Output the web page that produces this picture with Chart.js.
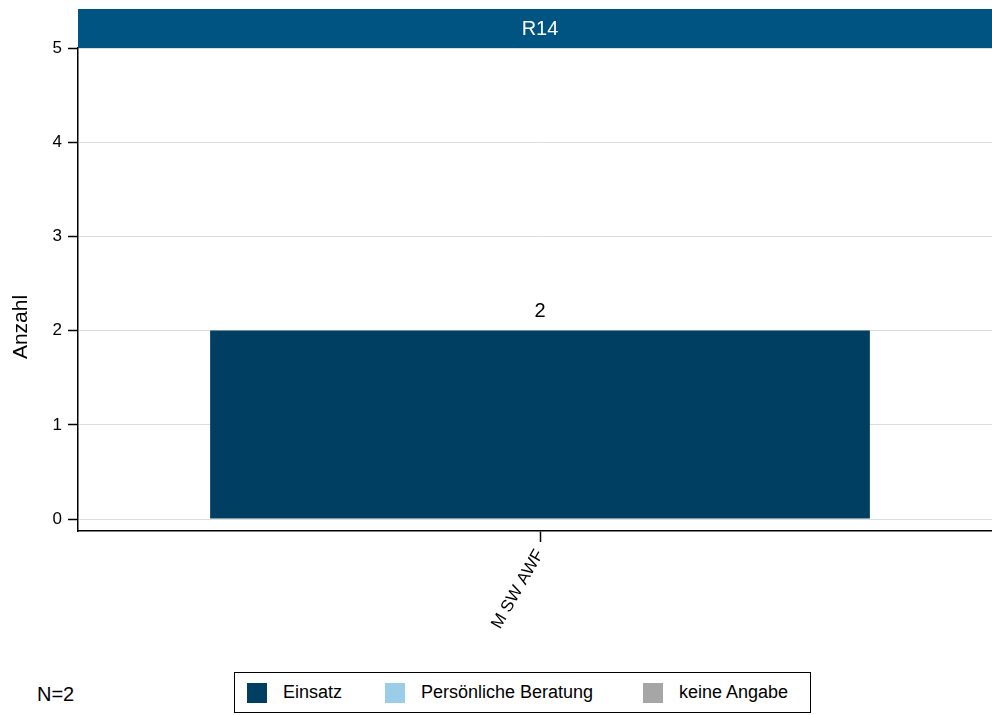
<!DOCTYPE html>
<html>
<head>
<meta charset="utf-8">
<script src="https://cdn.jsdelivr.net/npm/chart.js@4/dist/chart.umd.min.js"></script>
<style>
  body { margin: 0; width: 992px; height: 715px; overflow: hidden; background: #fff; font-family: "Liberation Sans", Arial, sans-serif; position: relative; }
  #wrap { position: absolute; left: 0; top: 0; width: 992px; height: 650px; overflow: hidden; }
  #nlabel { position: absolute; left: 37px; top: 684px; font-size: 20px; line-height: 20px; color: #000; }
  #legend { position: absolute; left: 234px; top: 672px; width: 577px; height: 41px; border: 1.5px solid #000; box-sizing: border-box;
            display: grid; grid-template-columns: 138px 258px auto; align-items: center; padding-left: 12px; font-size: 18px; }
  #legend .item { display: flex; align-items: center; }
  #legend .sw { width: 20px; height: 20px; margin-right: 16px; }
</style>
</head>
<body>
<div id="wrap"><canvas id="chart" width="1002" height="650"></canvas></div>
<div id="nlabel"></div>
<div id="legend"></div>
<script>
// data
const categories = ["M SW AWF"];
const seriesNames = ["Einsatz", "Persönliche Beratung", "keine Angabe"];
const einsatz = [2];
const beratung = [0];
const keineAngabe = [0];
const seriesColors = ["#003f62", "#9ccde8", "#a6a6a6"];
const yTicks = [0, 1, 2, 3, 4, 5];
const panelTitle = "R14";
const yTitle = "Anzahl";
const nText = "N=2";

const FONT = '"Liberation Sans", Arial, sans-serif';

// header strip with panel title + y axis title
const headerPlugin = {
  id: "header",
  afterDraw(chart) {
    const ctx = chart.ctx;
    const a = chart.chartArea;
    ctx.save();
    ctx.fillStyle = "#005482";
    ctx.fillRect(a.left, 9, chart.width - a.left, a.top - 9);
    ctx.fillStyle = "#fff";
    ctx.font = "20px " + FONT;
    ctx.textAlign = "center";
    ctx.textBaseline = "middle";
    ctx.fillText(panelTitle, (a.left + a.right) / 2, (9 + a.top) / 2 + 1);
    ctx.fillStyle = "#000";
    ctx.font = "21px " + FONT;
    ctx.translate(21, 327);
    ctx.rotate(-Math.PI / 2);
    ctx.fillText(yTitle, 0, 0);
    ctx.restore();
  }
};

// value label above each stack
const totalLabelPlugin = {
  id: "totals",
  afterDatasetsDraw(chart) {
    const ctx = chart.ctx;
    const y = chart.scales.y;
    const x = chart.scales.x;
    ctx.save();
    ctx.fillStyle = "#000";
    ctx.font = "20px " + FONT;
    ctx.textAlign = "center";
    ctx.textBaseline = "alphabetic";
    categories.forEach((c, i) => {
      const total = einsatz[i] + beratung[i] + keineAngabe[i];
      ctx.fillText(String(total), x.getPixelForValue(i), y.getPixelForValue(total) - 14);
    });
    ctx.restore();
  }
};

const values = [einsatz, beratung, keineAngabe];

new Chart(document.getElementById("chart"), {
  type: "bar",
  data: {
    labels: categories,
    datasets: seriesNames.map((name, i) => ({
      label: name,
      data: values[i],
      backgroundColor: seriesColors[i],
      borderWidth: 0,
      barPercentage: 0.714,
      categoryPercentage: 1
    }))
  },
  options: {
    responsive: false,
    animation: false,
    layout: { padding: { top: 48, left: 0, right: 0, bottom: 0 } },
    plugins: { legend: { display: false }, tooltip: { enabled: false } },
    scales: {
      x: {
        stacked: true,
        grid: { offset: false, drawOnChartArea: false, tickLength: 11, tickColor: "#000", tickWidth: 1.5 },
        border: { color: "#000", width: 1.5 },
        ticks: { color: "#000", font: { family: FONT, size: 17 }, minRotation: 60, maxRotation: 60, padding: 4 },
        afterFit(scale) { scale.height = 119; }
      },
      y: {
        stacked: true,
        min: -0.127,
        max: 5,
        afterBuildTicks(scale) { scale.ticks = yTicks.map(v => ({ value: v })); },
        grid: { color: "#dcdcdc", lineWidth: 1, tickLength: 10, tickColor: "#000", tickWidth: 1.5 },
        border: { color: "#000", width: 1.5 },
        ticks: { color: "#000", font: { family: FONT, size: 17 }, padding: 6 },
        afterFit(scale) { scale.width = 78; }
      }
    }
  },
  plugins: [headerPlugin, totalLabelPlugin]
});

document.getElementById("nlabel").textContent = nText;
const legend = document.getElementById("legend");
seriesNames.forEach((name, i) => {
  const item = document.createElement("div");
  item.className = "item";
  const sw = document.createElement("div");
  sw.className = "sw";
  sw.style.background = seriesColors[i];
  const t = document.createElement("span");
  t.textContent = name;
  item.appendChild(sw);
  item.appendChild(t);
  legend.appendChild(item);
});
</script>
</body>
</html>
